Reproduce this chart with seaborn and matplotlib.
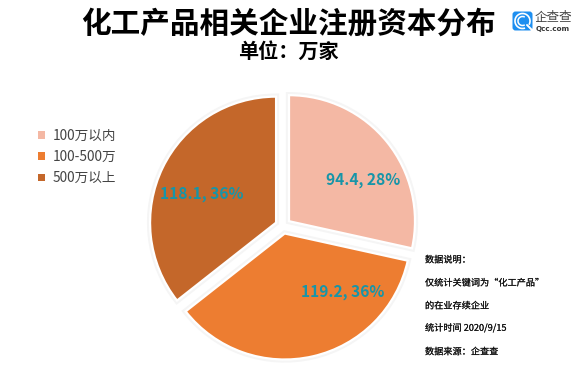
import matplotlib
matplotlib.use("Agg")
import matplotlib.pyplot as plt
import matplotlib.patheffects as pe
from matplotlib.patches import FancyBboxPatch, Arc
import seaborn as sns

categories = ["100万以内", "100-500万", "500万以上"]
values = [94.4, 119.2, 118.1]
percent_labels = ["28%", "36%", "36%"]
slice_colors = ["#F4B8A4", "#ED7D31", "#C4672A"]
title_text = "化工产品相关企业注册资本分布"
subtitle_text = "单位\uff1a万家"
notes = ["数据说明\uff1a", "仅统计关键词为“化工产品”", "的在业存续企业", "统计时间 2020/9/15", "数据来源\uff1a企查查"]

sns.set_theme(style="white")
FONT = ["Noto Sans CJK SC", "DejaVu Sans"]
plt.rcParams["font.family"] = FONT

W, H = 580, 372
palette = sns.color_palette(slice_colors)
fig = plt.figure(figsize=(5.8, 3.72), dpi=100, facecolor="white")
ax = fig.add_axes([0, 0, 1, 1])
ax.set_xlim(0, W)
ax.set_ylim(H, 0)
ax.set_aspect("equal")
ax.axis("off")

pax = fig.add_axes([0, 0, 1, 1], facecolor="none")
wedges, _ = pax.pie(values, explode=[7.7] * 3, startangle=90, counterclock=False,
                    colors=palette, center=(283, H - 226), radius=126, frame=True,
                    wedgeprops=dict(edgecolor="white", linewidth=1.6))
pax.set_xlim(0, W)
pax.set_ylim(0, H)
pax.set_aspect("equal")
pax.axis("off")
for w in wedges:
    w.set_path_effects([pe.Stroke(linewidth=4.5, foreground="#F5F5F5"), pe.Normal()])

label_pos = [(363, 180), (343, 292), (202, 194)]
for v, p, (x, y) in zip(values, percent_labels, label_pos):
    ax.text(x, y, f"{v}, {p}", color="#1795A8", fontsize=11.2, fontweight="bold",
            ha="center", va="center", zorder=10)
ax.set_zorder(5)
ax.patch.set_visible(False)

ax.text(288, 24, title_text, fontsize=21.3, fontweight="bold", color="black", ha="center", va="center")
ax.text(288, 51, subtitle_text, fontsize=14.5, fontweight="bold", color="black", ha="center", va="center")

for txt, y in zip(notes, [260, 283, 306, 328, 352]):
    ax.text(425, y, txt, fontsize=6.6, color="#111111", ha="left", va="center",
            path_effects=[pe.withStroke(linewidth=0.1, foreground="#111111")])

leg = pax.legend(wedges, categories, loc="upper left", bbox_to_anchor=(38 / W, 1 - 129 / H),
                 bbox_transform=fig.transFigure, frameon=False, fontsize=9.8, labelcolor="#444444",
                 handlelength=0.48, handleheight=0.48, handletextpad=0.6, labelspacing=0.52,
                 borderpad=0, borderaxespad=0)
for h in leg.legend_handles:
    h.set_path_effects([])
    h.set_edgecolor("none")

# Qcc logo
ax.add_patch(FancyBboxPatch((514, 13), 17, 16, boxstyle="round,pad=1.5,rounding_size=3",
                            facecolor="#1E8FF0", edgecolor="none"))
ax.add_patch(Arc((522.5, 21), 15, 15, theta1=70, theta2=30, color="white", lw=1.2))
ax.add_patch(Arc((522.5, 21), 9, 9, theta1=60, theta2=300, color="white", lw=1.1))
ax.plot([527, 532], [25, 30], color="white", lw=1.4, solid_capstyle="round")
ax.text(553, 18, "企查查", fontsize=9, color="#444444", ha="center", va="center")
ax.text(553, 28.5, "Qcc.com", fontsize=5.2, color="#333333", ha="center", va="center",
        fontweight="bold", family=["DejaVu Sans"])

fig.savefig("out.png", dpi=100, facecolor="white")
